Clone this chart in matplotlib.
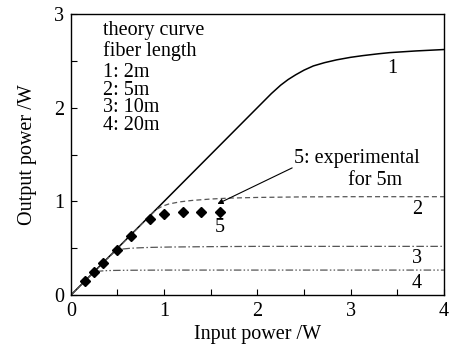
import numpy as np
import matplotlib.pyplot as plt

plt.rcParams['font.family'] = ['Liberation Serif', 'DejaVu Serif']

# curve 1: fiber length 2m
x1 = [0, 0.5, 1.0, 1.5, 2.0, 2.15, 2.25, 2.33, 2.41, 2.5, 2.6, 2.72, 2.85, 3.0, 3.13, 3.3, 3.42, 3.7, 4.0]
y1 = [0, 0.5, 1.0, 1.5, 2.0, 2.15, 2.24, 2.3, 2.35, 2.40, 2.445, 2.48, 2.51, 2.537, 2.555, 2.575, 2.587, 2.605, 2.62]
# curve 2: 5m
x2 = [0, 0.5, 0.88, 0.93, 0.98, 1.05, 1.17, 1.3, 1.5, 1.7, 2.0, 2.5, 3.0, 4.0]
y2 = [0, 0.5, 0.88, 0.92, 0.948, 0.972, 0.995, 1.01, 1.025, 1.035, 1.042, 1.048, 1.05, 1.05]
# curve 3: 10m
x3 = [0, 0.3, 0.47, 0.51, 0.56, 0.63, 0.72, 0.85, 1.06, 1.5, 2.0, 3.0, 4.0]
y3 = [0, 0.3, 0.465, 0.482, 0.492, 0.499, 0.504, 0.509, 0.513, 0.517, 0.52, 0.52, 0.52]
# curve 4: 20m
x4 = [0, 0.23, 0.26, 0.30, 0.36, 0.45, 0.6, 1.0, 2.0, 4.0]
y4 = [0, 0.23, 0.247, 0.255, 0.26, 0.263, 0.265, 0.267, 0.267, 0.267]
# experimental 5m
xe = [0.15, 0.25, 0.35, 0.50, 0.64, 0.85, 1.00, 1.20, 1.40, 1.60]
ye = [0.15, 0.25, 0.34, 0.48, 0.63, 0.81, 0.86, 0.89, 0.89, 0.885]

fig = plt.figure(figsize=(4.6, 3.48), dpi=100)
ax = fig.add_axes([0.154, 0.152, 0.811, 0.808])

ax.plot(x1, y1, color='black', lw=1.1)
ax.plot(x2, y2, color='#555555', lw=0.9, dashes=(4, 2.5))
ax.plot(x3, y3, color='#555555', lw=0.9, dashes=(6, 2, 1.2, 2))
ax.plot(x4, y4, color='#555555', lw=0.9, dashes=(6, 1.8, 1.2, 1.8, 1.2, 1.8))
ax.plot(xe, ye, 'D', color='black', ms=5)

fs = 14.5
ax.set_xlim(0, 4)
ax.set_ylim(0, 3)
ax.set_xticks(np.arange(0, 4.01, 0.5))
ax.set_xticklabels(['0', '', '1', '', '2', '', '3', '', '4'])
ax.set_yticks(np.arange(0, 3.01, 0.5))
ax.set_yticklabels(['0', '', '1', '', '2', '', '3'])
ax.tick_params(direction='in', length=4, width=0.8, labelsize=fs)
ax.tick_params(axis='x', pad=5)
ax.tick_params(axis='y', pad=5)
for s in ax.spines.values():
    s.set_linewidth(1.0)

ax.set_xlabel('Input power /W', fontsize=fs, labelpad=3)
ax.set_ylabel('Output power /W', fontsize=fs, labelpad=12)

ax.text(0.35, 2.82, 'theory curve', fontsize=fs, va='center')
ax.text(0.35, 2.605, 'fiber length', fontsize=fs, va='center')
for i, s in enumerate(['1: 2m', '2: 5m', '3: 10m', '4: 20m']):
    ax.text(0.35, 2.375 - i * 0.187, s, fontsize=fs, va='center')

ax.text(3.45, 2.42, '1', fontsize=fs, ha='center', va='center')
ax.text(3.71, 0.91, '2', fontsize=fs, ha='center', va='center')
ax.text(3.71, 0.395, '3', fontsize=fs, ha='center', va='center')
ax.text(3.71, 0.128, '4', fontsize=fs, ha='center', va='center')
ax.text(1.6, 0.72, '5', fontsize=fs, ha='center', va='center')

ax.annotate('', xy=(1.545, 0.96), xytext=(2.40, 1.37),
            arrowprops=dict(arrowstyle='-|>', color='black', lw=0.8,
                            mutation_scale=8))
ax.text(2.39, 1.46, '5: experimental', fontsize=fs, va='center')
ax.text(2.97, 1.225, 'for 5m', fontsize=fs, va='center')

fig.savefig('out.png', dpi=100)
